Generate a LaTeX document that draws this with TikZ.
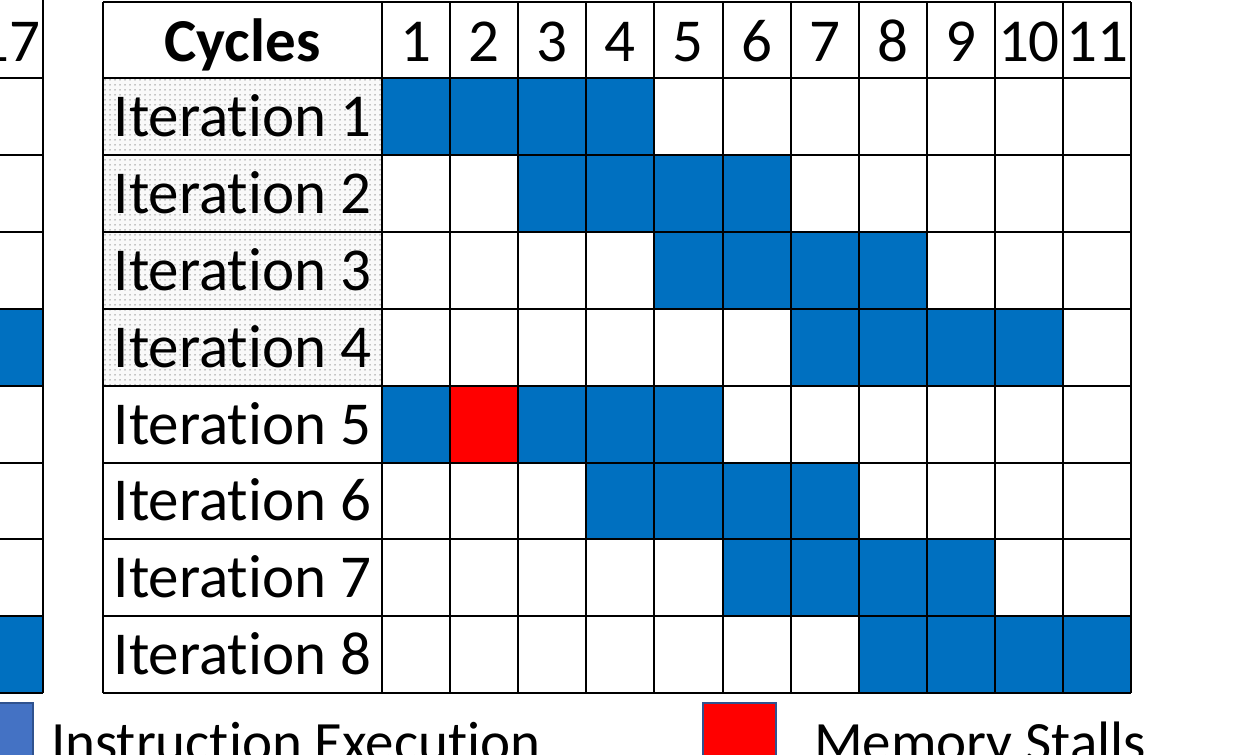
\documentclass[tikz,border=0pt]{standalone}
\usepackage{fontspec}
\setmainfont{Carlito}[Ligatures=NoCommon]
\usepackage{xcolor}
\usepackage{tikz}
\usetikzlibrary{
  patterns.meta
}
\definecolor{ExecBlue}{RGB}{0, 112, 192}
\definecolor{StallRed}{RGB}{255, 0, 0}
\definecolor{LegendBlue}{RGB}{68, 114, 196}
\definecolor{LegendEdge}{RGB}{47, 82, 143}
\definecolor{DotGray}{RGB}{140, 140, 140}

\begin{document}
\begin{tikzpicture}[x=1pt, y=-1pt, line width=2pt,
    hdr/.style={anchor=base, inner sep=0pt, font=\fontsize{61}{70}\selectfont},
    rowlabel/.style={anchor=base, inner sep=0pt, font=\fontsize{61}{70}\selectfont},
    legendtext/.style={anchor=base west, inner sep=0pt, font=\fontsize{57}{64}\selectfont},
    legendbox/.style={draw=LegendEdge, line width=1.5pt}
  ]
  \useasboundingbox (0,0) rectangle (1240,755);
  \clip (0,0) rectangle (1240,755);

  % left table, cut off by the page edge
  \fill[ExecBlue] (-25,308.7) rectangle (43,385.6);
  \fill[ExecBlue] (-25,616.3) rectangle (43,693.2);
  \foreach \r in {0,...,8}
    \draw (-25,{78+\r*76.9}) -- (43,{78+\r*76.9});
  \draw (43,-5) -- (43,693.2);
  \node[hdr] (prevcyc) at (9,61) {17};

  % label column shading
  \fill[gray!5] (103,78) rectangle (382,385.6);
  \fill[pattern={Dots[distance=5pt, radius=0.75pt]}, pattern color=DotGray] (103,78) rectangle (382,385.6);

  % executed cycles
  \foreach \r/\c in {1/1,1/2,1/3,1/4,
                     2/3,2/4,2/5,2/6,
                     3/5,3/6,3/7,3/8,
                     4/7,4/8,4/9,4/10,
                     5/1,5/3,5/4,5/5,
                     6/4,6/5,6/6,6/7,
                     7/6,7/7,7/8,7/9,
                     8/8,8/9,8/10,8/11}
    \fill[ExecBlue] ({382+(\c-1)*68.1},{78+(\r-1)*76.9}) rectangle ++(68.1,76.9);
  % stall
  \fill[StallRed] ({382+68.1},{78+4*76.9}) rectangle ++(68.1,76.9);

  % grid
  \draw (103,2) -- (1131,2);
  \foreach \r in {0,...,8}
    \draw (103,{78+\r*76.9}) -- (1131,{78+\r*76.9});
  \draw (103,2) -- (103,693.2);
  \foreach \c in {0,...,11}
    \draw ({382+\c*68.1},2) -- ({382+\c*68.1},693.2);

  % header
  \node[hdr, font=\fontsize{61}{70}\selectfont\bfseries] (cycles) at (242.5,61) {Cycles};
  \foreach \c in {1,...,11}
    \node[hdr] (cyc\c) at ({382+(\c-0.5)*68.1},61) {\c};

  % rows
  \foreach \r in {1,...,8}
    \node[rowlabel] (iter\r) at (242.5,{78+(\r-0.5)*76.9+20}) {Iteration \r};

  % legend
  \draw[legendbox, fill=LegendBlue] (-10,703) rectangle (33,775);
  \node[legendtext] (execlabel) at (50,761) {Instruction Execution};
  \draw[legendbox, fill=StallRed] (703,703) rectangle (776,775);
  \node[legendtext] (stalllabel) at (813,761) {Memory Stalls};
\end{tikzpicture}
\end{document}
